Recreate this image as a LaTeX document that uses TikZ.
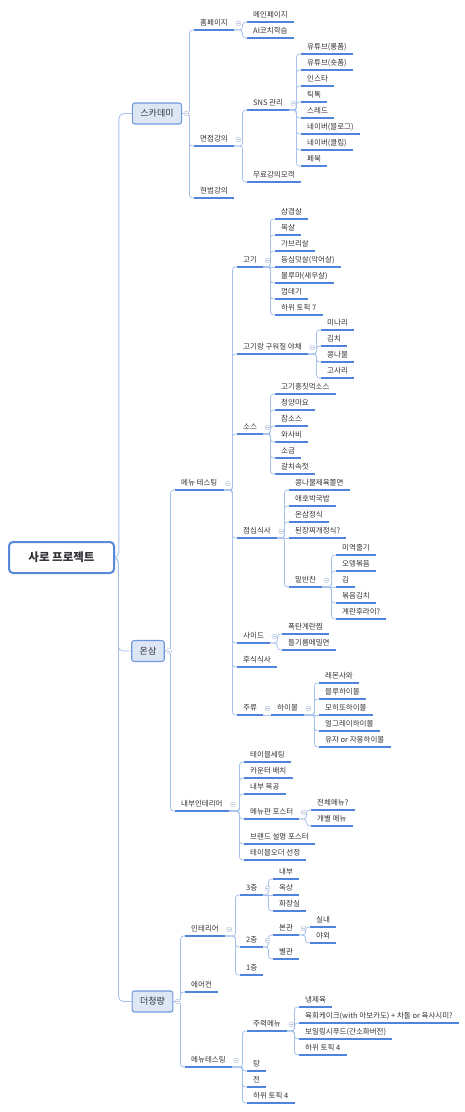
\documentclass[tikz,border=0pt]{standalone}
\usepackage{fontspec}
\setmainfont{Noto Sans CJK KR}
\usepackage{tikz}
\usetikzlibrary{calc,backgrounds}
\definecolor{mapLine}{RGB}{165,193,236}
\definecolor{mapUnder}{RGB}{80,132,218}
\definecolor{mapBox}{RGB}{220,230,244}
\definecolor{mapBoxLine}{RGB}{112,152,222}
\definecolor{mapRoot}{RGB}{88,136,216}
\definecolor{mapText}{RGB}{50,50,55}
\definecolor{mapFold}{RGB}{185,198,220}

\begin{document}
\begin{tikzpicture}[x=1pt, y=-1pt, every node/.style={text=mapText},
    topic/.style={anchor=south west, inner xsep=6pt, inner ysep=2.5pt,
      text height=6.2pt, text depth=1.5pt, font=\fontsize{7.5}{8.5}\selectfont,
      append after command={(\tikzlastnode.south west) edge[mapUnder, line width=1.2pt] (\tikzlastnode.south east)}},
    mainbox/.style={draw=mapBoxLine, fill=mapBox, line width=1.1pt, rounded corners=2.5pt,
      minimum height=21pt, inner xsep=8pt, font=\fontsize{9}{10}\selectfont},
    rootbox/.style={draw=mapRoot, fill=white, line width=2pt, rounded corners=4pt,
      minimum width=105pt, minimum height=31pt, font=\fontsize{11.5}{13}\selectfont\bfseries},
    foldmark/.style={circle, draw=mapFold, fill=white, line width=0.5pt, minimum size=5pt,
      inner sep=0pt, label distance=1.5pt,
      path picture={\draw[mapFold, line width=0.5pt] ([xshift=-1.3pt]path picture bounding box.center) -- ([xshift=1.3pt]path picture bounding box.center);}},
    fold/.style={label={[foldmark]right:{}}},
    conn/.style={draw=mapLine, line width=0.8pt, rounded corners=3pt},
    branch/.style={to path={-- ([xshift=-#1]\tikztotarget |- \tikztostart) |- (\tikztotarget)}},
    branch/.default=4.5pt]
  \useasboundingbox (0,0) rectangle (464,1112);

  % root and main topics
  \node[rootbox] (root) at (61.5,557.5) {사로 프로젝트};
  \node[mainbox, fold] (ska) at (157,113.5) {스카데미};
  \node[mainbox, fold] (onsam) at (148,651) {온삼};
  \node[mainbox, fold] (cheong) at (152.5,1001.5) {더청량};

  % 스카데미
  \node[topic, fold] (home) at (194,30) {홈페이지};
  \node[topic, fold] (lecture) at (194,146) {면접강의};
  \node[topic] (offline) at (194,198) {현법강의};
  \node[topic] (homeMain) at (247,22) {메인페이지};
  \node[topic] (homeAi) at (247,38) {AI코치학습};
  \node[topic, fold] (sns) at (247,110) {SNS 관리};
  \node[topic] (freeLec) at (247,182) {무료강의모객};
  \node[topic] (snsA) at (301,54) {유튜브(롱폼)};
  \node[topic] (snsB) at (301,70) {유튜브(숏폼)};
  \node[topic] (snsC) at (301,86) {인스타};
  \node[topic] (snsD) at (301,102) {틱톡};
  \node[topic] (snsE) at (301,118) {스레드};
  \node[topic] (snsF) at (301,134) {네이버(블로그)};
  \node[topic] (snsG) at (301,150) {네이버(클립)};
  \node[topic] (snsH) at (301,166) {페북};

  % 온삼
  \node[topic, fold] (menu) at (175,490) {메뉴 테스팅};
  \node[topic, fold] (interior) at (175,811) {내부인테리어};
  \node[topic, fold] (meat) at (237,267) {고기};
  \node[topic, fold] (veg) at (237,354) {고기랑 구워질 야채};
  \node[topic, fold] (sauce) at (237,434) {소스};
  \node[topic, fold] (lunch) at (237,538) {점심식사};
  \node[topic, fold] (side) at (237,643) {사이드};
  \node[topic] (dessert) at (237,667) {후식식사};
  \node[topic, fold] (drink) at (237,715) {주류};
  \node[topic] (meatA) at (275,219) {삼겹살};
  \node[topic] (meatB) at (275,235) {목살};
  \node[topic] (meatC) at (275,251) {가브리살};
  \node[topic] (meatD) at (275,267) {등심덧살(악어살)};
  \node[topic] (meatE) at (275,283) {불루마(새우살)};
  \node[topic] (meatF) at (275,299) {껍데기};
  \node[topic] (meatG) at (275,315) {하위 토픽 7};
  \node[topic] (vegA) at (321,330) {미나리};
  \node[topic] (vegB) at (321,346) {김치};
  \node[topic] (vegC) at (321,362) {콩나물};
  \node[topic] (vegD) at (321,378) {고사리};
  \node[topic] (sauceA) at (275,394) {고기흥칫먹소스};
  \node[topic] (sauceB) at (275,410) {청양마요};
  \node[topic] (sauceC) at (275,426) {참소스};
  \node[topic] (sauceD) at (275,442) {와사비};
  \node[topic] (sauceE) at (275,458) {소금};
  \node[topic] (sauceF) at (275,474) {갈치속젓};
  \node[topic] (lunchA) at (289,490) {콩나물제육쫄면};
  \node[topic] (lunchB) at (289,506) {애호박국밥};
  \node[topic] (lunchC) at (289,522) {온삼정식};
  \node[topic] (lunchD) at (289,538) {된장찌개정식?};
  \node[topic, fold] (banchan) at (289,587) {밑반찬};
  \node[topic] (banA) at (336,555) {미역줄기};
  \node[topic] (banB) at (336,571) {오뎅볶음};
  \node[topic] (banC) at (336,587) {김};
  \node[topic] (banD) at (336,603) {볶음김치};
  \node[topic] (banE) at (336,619) {계란후라이?};
  \node[topic] (sideA) at (282,634) {폭탄계란찜};
  \node[topic] (sideB) at (282,650) {들기름메밀면};
  \node[topic, fold] (highball) at (271,715) {하이볼};
  \node[topic] (hbA) at (319,683) {레몬사와};
  \node[topic] (hbB) at (319,699) {블루하이볼};
  \node[topic] (hbC) at (319,715) {모히또하이볼};
  \node[topic] (hbD) at (319,731) {얼그레이하이볼};
  \node[topic] (hbE) at (319,747) {유자 or 자몽하이볼};
  \node[topic] (inA) at (244,762) {테이블세팅};
  \node[topic] (inB) at (244,778) {카운터 배치};
  \node[topic] (inC) at (244,794) {내부 목공};
  \node[topic, fold] (poster) at (244,819) {메뉴판 포스터};
  \node[topic] (inD) at (244,844) {브랜드 설명 포스터};
  \node[topic] (inE) at (244,860) {테이블오더 선정};
  \node[topic] (posterA) at (311,810) {전체메뉴?};
  \node[topic] (posterB) at (311,826) {개별 메뉴};

  % 더청량
  \node[topic, fold] (deco) at (185,936) {인테리어};
  \node[topic] (aircon) at (185,992) {에어컨};
  \node[topic, fold] (trial) at (185,1067) {메뉴테스팅};
  \node[topic, fold] (floor3) at (240,895) {3층};
  \node[topic, fold] (floor2) at (240,947) {2층};
  \node[topic] (floor1) at (240,975) {1층};
  \node[topic] (f3A) at (273,879) {내부};
  \node[topic] (f3B) at (273,895) {옥상};
  \node[topic] (f3C) at (273,911) {화장실};
  \node[topic, fold] (hall) at (273,935) {본관};
  \node[topic] (annex) at (273,959) {별관};
  \node[topic] (hallA) at (310,927) {실내};
  \node[topic] (hallB) at (310,943) {야외};
  \node[topic, fold] (signature) at (247,1031) {주력메뉴};
  \node[topic] (tang) at (247,1071) {탕};
  \node[topic] (jeon) at (247,1087) {전};
  \node[topic] (trialTopic) at (247,1103) {하위 토픽 4};
  \node[topic] (sigA) at (299,1007) {냉제육};
  \node[topic] (sigB) at (299,1023) {육회케이크(with 아보카도) + 차돌 or 육사시미?};
  \node[topic] (sigC) at (299,1039) {보일링시푸드(간소화버전)};
  \node[topic] (sigD) at (299,1055) {하위 토픽 4};

  \begin{scope}[on background layer]
    % trunk
    \draw[conn, rounded corners=5pt] (root.east) to[branch=13pt] (ska.west);
    \draw[conn, rounded corners=5pt] (root.east) to[branch=13pt] (onsam.west);
    \draw[conn, rounded corners=5pt] (root.east) to[branch=13pt] (cheong.west);
    % 스카데미
    \draw[conn] (ska.east) to[branch] (home.south west);
    \draw[conn] (ska.east) to[branch] (lecture.south west);
    \draw[conn] (ska.east) to[branch] (offline.south west);
    \draw[conn] (home.south east) to[branch] (homeMain.south west);
    \draw[conn] (home.south east) to[branch] (homeAi.south west);
    \draw[conn] (lecture.south east) to[branch] (sns.south west);
    \draw[conn] (lecture.south east) to[branch] (freeLec.south west);
    \draw[conn] (sns.south east) to[branch] (snsA.south west);
    \draw[conn] (sns.south east) to[branch] (snsB.south west);
    \draw[conn] (sns.south east) to[branch] (snsC.south west);
    \draw[conn] (sns.south east) to[branch] (snsD.south west);
    \draw[conn] (sns.south east) to[branch] (snsE.south west);
    \draw[conn] (sns.south east) to[branch] (snsF.south west);
    \draw[conn] (sns.south east) to[branch] (snsG.south west);
    \draw[conn] (sns.south east) to[branch] (snsH.south west);
    % 온삼
    \draw[conn] (onsam.east) to[branch] (menu.south west);
    \draw[conn] (onsam.east) to[branch] (interior.south west);
    \draw[conn] (menu.south east) to[branch] (meat.south west);
    \draw[conn] (menu.south east) to[branch] (veg.south west);
    \draw[conn] (menu.south east) to[branch] (sauce.south west);
    \draw[conn] (menu.south east) to[branch] (lunch.south west);
    \draw[conn] (menu.south east) to[branch] (side.south west);
    \draw[conn] (menu.south east) to[branch] (dessert.south west);
    \draw[conn] (menu.south east) to[branch] (drink.south west);
    \draw[conn] (meat.south east) to[branch] (meatA.south west);
    \draw[conn] (meat.south east) to[branch] (meatB.south west);
    \draw[conn] (meat.south east) to[branch] (meatC.south west);
    \draw[conn] (meat.south east) -- (meatD.south west);
    \draw[conn] (meat.south east) to[branch] (meatE.south west);
    \draw[conn] (meat.south east) to[branch] (meatF.south west);
    \draw[conn] (meat.south east) to[branch] (meatG.south west);
    \draw[conn] (veg.south east) to[branch] (vegA.south west);
    \draw[conn] (veg.south east) to[branch] (vegB.south west);
    \draw[conn] (veg.south east) to[branch] (vegC.south west);
    \draw[conn] (veg.south east) to[branch] (vegD.south west);
    \draw[conn] (sauce.south east) to[branch] (sauceA.south west);
    \draw[conn] (sauce.south east) to[branch] (sauceB.south west);
    \draw[conn] (sauce.south east) to[branch] (sauceC.south west);
    \draw[conn] (sauce.south east) to[branch] (sauceD.south west);
    \draw[conn] (sauce.south east) to[branch] (sauceE.south west);
    \draw[conn] (sauce.south east) to[branch] (sauceF.south west);
    \draw[conn] (lunch.south east) to[branch] (lunchA.south west);
    \draw[conn] (lunch.south east) to[branch] (lunchB.south west);
    \draw[conn] (lunch.south east) to[branch] (lunchC.south west);
    \draw[conn] (lunch.south east) -- (lunchD.south west);
    \draw[conn] (lunch.south east) to[branch] (banchan.south west);
    \draw[conn] (banchan.south east) to[branch] (banA.south west);
    \draw[conn] (banchan.south east) to[branch] (banB.south west);
    \draw[conn] (banchan.south east) -- (banC.south west);
    \draw[conn] (banchan.south east) to[branch] (banD.south west);
    \draw[conn] (banchan.south east) to[branch] (banE.south west);
    \draw[conn] (side.south east) to[branch] (sideA.south west);
    \draw[conn] (side.south east) to[branch] (sideB.south west);
    \draw[conn] (drink.south east) -- (highball.south west);
    \draw[conn] (highball.south east) to[branch] (hbA.south west);
    \draw[conn] (highball.south east) to[branch] (hbB.south west);
    \draw[conn] (highball.south east) -- (hbC.south west);
    \draw[conn] (highball.south east) to[branch] (hbD.south west);
    \draw[conn] (highball.south east) to[branch] (hbE.south west);
    \draw[conn] (interior.south east) to[branch] (inA.south west);
    \draw[conn] (interior.south east) to[branch] (inB.south west);
    \draw[conn] (interior.south east) to[branch] (inC.south west);
    \draw[conn] (interior.south east) to[branch] (poster.south west);
    \draw[conn] (interior.south east) to[branch] (inD.south west);
    \draw[conn] (interior.south east) to[branch] (inE.south west);
    \draw[conn] (poster.south east) to[branch] (posterA.south west);
    \draw[conn] (poster.south east) to[branch] (posterB.south west);
    % 더청량
    \draw[conn] (cheong.east) to[branch] (deco.south west);
    \draw[conn] (cheong.east) to[branch] (aircon.south west);
    \draw[conn] (cheong.east) to[branch] (trial.south west);
    \draw[conn] (deco.south east) to[branch] (floor3.south west);
    \draw[conn] (deco.south east) to[branch] (floor2.south west);
    \draw[conn] (deco.south east) to[branch] (floor1.south west);
    \draw[conn] (floor3.south east) to[branch] (f3A.south west);
    \draw[conn] (floor3.south east) -- (f3B.south west);
    \draw[conn] (floor3.south east) to[branch] (f3C.south west);
    \draw[conn] (floor2.south east) to[branch] (hall.south west);
    \draw[conn] (floor2.south east) to[branch] (annex.south west);
    \draw[conn] (hall.south east) to[branch] (hallA.south west);
    \draw[conn] (hall.south east) to[branch] (hallB.south west);
    \draw[conn] (trial.south east) to[branch] (signature.south west);
    \draw[conn] (trial.south east) to[branch] (tang.south west);
    \draw[conn] (trial.south east) to[branch] (jeon.south west);
    \draw[conn] (trial.south east) to[branch] (trialTopic.south west);
    \draw[conn] (signature.south east) to[branch] (sigA.south west);
    \draw[conn] (signature.south east) to[branch] (sigB.south west);
    \draw[conn] (signature.south east) to[branch] (sigC.south west);
    \draw[conn] (signature.south east) to[branch] (sigD.south west);
  \end{scope}
\end{tikzpicture}
\end{document}
